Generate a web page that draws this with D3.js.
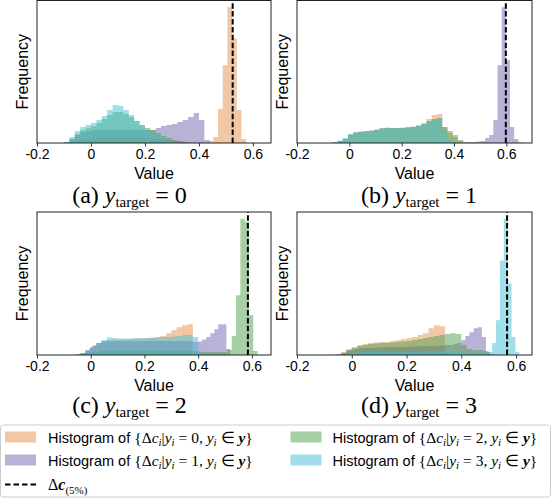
<!DOCTYPE html>
<html><head><meta charset="utf-8">
<script src="https://cdn.jsdelivr.net/npm/d3@7"></script>
<style>body{margin:0;background:#fff}svg text{white-space:pre}</style>
</head><body>
<svg id="chart" width="553" height="499"></svg>
<script>
// ---------------- DATA ----------------
const panelLetters = ["a", "b", "c", "d"];
const targetValues = ["0", "1", "2", "3"];
const classLabels = ["0", "1", "2", "3"];
const tickValues = [-0.2, 0, 0.2, 0.4, 0.6];
const tickLabels = ["-0.2", "0", "0.2", "0.4", "0.6"];
const xMin = [-0.2, -0.2, -0.2, -0.2];
const xMax = [0.667, 0.698, 0.671, 0.658];
const threshold5 = [0.525, 0.598, 0.585, 0.567];

// first bin edge and bin width per panel, per class
const binStart = [
  [-0.1, -0.1, -0.1, -0.1],
  [-0.065, 0.439, -0.065, -0.065],
  [-0.06, -0.05, -0.051, -0.06],
  [-0.06, -0.05, -0.06, -0.0414]
];
const binWidth = [
  [0.0173, 0.02, 0.02, 0.02],
  [0.02, 0.0159, 0.02, 0.02],
  [0.02, 0.015, 0.016, 0.02],
  [0.02, 0.015, 0.02, 0.0142]
];

// panel (a) y_target = 0
const histA0 = [0.5,1,2,3,4,4.5,5,5.5,6,6,6.5,6.5,6,6,6,5.5,5.5,5,5,4.5,4,3.5,3,2.5,2,1.5,1,0.5,0.3,0.2,0.5,2,6,34,78,136,105,33,4];
const histA1 = [1,4,8,11,12,13,13,13,13,13,13,13,13,13,13,13,13,15,17,18,19,21,23,26,30,23,3];
const histA2 = [0.5,4,9,13,15,17,20,24,28,31,31,29,26,22,18,15,13,10,7,5,3,2,1];
const histA3 = [1,6,12,16,18,20,23,27,33,38,37,33,28,22,18,13,10,7,4,2,1];
// panel (b) y_target = 1
const histB0 = [1,2,4,9,11,11.5,12,12.5,13.5,15,15.5,15,15,15.5,16,16.5,18,20,24,28,29,16,10,6,2,0.5];
const histB1 = [0.5,1,1,1.5,2,5,8,23,78,136,83,16,4,0.5];
const histB2 = [0.5,2,4,8,10,11,11.5,12,13,14.5,15,15,15,15,15.5,16,17,19,22,24,25,16,12,8,3,0.5];
const histB3 = [1,2.5,5,9,11,11.5,12,12.5,13.5,14.5,15,15,15,15,15.5,16,17,19,22,24,25,14,3,0.5];
// panel (c) y_target = 2
const histC0 = [0.5,2,5,9,12,14,15,15.5,15.5,15.5,16,16,16.5,17,17.5,18,19,22,25,28,30,31,1];
const histC1 = [0.5,2,4,7,10,12,13,14,14,14,14,14,14,14,14,14,14,14,14,14,14,14,14,14,14,14,14,14,13.5,13,13.5,15.5,18,22,26,31,31,6];
const histC2 = [0.5,1,2,3,3.5,4,4,4.5,4.5,4.5,4.5,4.5,4.5,4.5,4.5,4.5,4.5,4.5,4.5,4.5,4.5,4.5,4,4,4,4,4,4,3.5,3,3,3,3,3,3,5,19,60,137,134,40,4];
const histC3 = [0.5,2,5,8,12,15,17.5,17,16.5,16.5,16.5,17,17,17,17,17.5,18,18,18.5,19,20,20,18,2];
// panel (d) y_target = 3
const histD0 = [0.5,3,6,8,10,11,12,12.5,13,13,14,15,16,17,18,20,22,27,30,29,2];
const histD1 = [0.5,2,4,5,6,7,7,7,7,7.5,7.5,7.5,8,8,8,8,8,8.5,8.5,8.5,9,9,9,9,9.5,9.5,10,10,11,12,15,19,23,27,28,18,3];
const histD2 = [0.5,2,5,7,9,10,11,11.5,12,12,12.5,13,13.5,14,15,16,17,18,19,20,21,22,21,10,6,5,5,4,1];
const histD3 = [0.5,1,1.5,2,2.5,3,3,3,3,3,3,3,3,3,3,3,3,3,3,3,3,3,3,3,3,3,3,3,3,3,2.5,2.5,2,2,2,2,2,2,3,12,35,95,137,72,18,3];

const histograms = [
  [histA0, histA1, histA2, histA3],
  [histB0, histB1, histB2, histB3],
  [histC0, histC1, histC2, histC3],
  [histD0, histD1, histD2, histD3]
];

// ---------------- STYLE / LAYOUT ----------------
const SANS = "'Liberation Sans', Arial, sans-serif";
const SERIF = "'Liberation Serif', 'Times New Roman', serif";
const colors = ["#e38f4e", "#7265b0", "#4d9f4d", "#41bfd3"];
const alpha = 0.5;
const layout = [
  {x0: 37, x1: 271, y0: 0.5, y1: 143, cap: 129.5, capY: 203, ylab: 28},
  {x0: 297, x1: 532, y0: 0.5, y1: 143, cap: 419, capY: 203, ylab: 287.5},
  {x0: 37, x1: 271, y0: 212, y1: 355, cap: 129.5, capY: 413, ylab: 28},
  {x0: 297, x1: 532, y0: 212, y1: 355, cap: 419, capY: 413, ylab: 287.5}
];

const svg = d3.select("#chart");

function addRich(g, x, y, parts, opts) {
  opts = opts || {};
  const t = g.append("text").attr("x", x).attr("y", y)
    .attr("text-anchor", opts.anchor || "start")
    .attr("font-family", opts.font || SERIF)
    .attr("font-size", opts.size || 16)
    .attr("fill", "#000");
  let shift = 0;
  parts.forEach(p => {
    const s = t.append("tspan").text(p.t);
    const target = p.sub || 0;
    if (target !== shift) { s.attr("dy", target - shift); shift = target; }
    if (p.font) s.attr("font-family", p.font);
    if (p.size) s.attr("font-size", p.size);
    if (p.it) s.attr("font-style", "italic");
    if (p.bold) s.attr("font-weight", "bold");
  });
  return t;
}

panelLetters.forEach((letter, p) => {
  const L = layout[p];
  const g = svg.append("g");
  const x = d3.scaleLinear().domain([xMin[p], xMax[p]]).range([L.x0, L.x1]);
  const maxC = d3.max(histograms[p], h => d3.max(h));
  const y = d3.scaleLinear().domain([0, maxC * 1.05]).range([L.y1, L.y0]);

  const area = d3.area()
    .x(d => x(d.x)).y0(y(0)).y1(d => y(d.c))
    .curve(d3.curveStepAfter);

  histograms[p].forEach((counts, k) => {
    const s = binStart[p][k], w = binWidth[p][k];
    const pts = counts.map((c, i) => ({x: s + i * w, c: c}));
    pts.push({x: s + counts.length * w, c: counts[counts.length - 1]});
    g.append("path").datum(pts).attr("d", area)
      .attr("fill", colors[k]).attr("fill-opacity", alpha).attr("stroke", "none");
  });

  // threshold line
  g.append("line")
    .attr("x1", x(threshold5[p])).attr("x2", x(threshold5[p]))
    .attr("y1", L.y1).attr("y2", L.y0)
    .attr("stroke", "#000").attr("stroke-width", 2)
    .attr("stroke-dasharray", "5.5,2.4");

  // x axis
  const ax = g.append("g").attr("transform", `translate(0,${L.y1})`)
    .call(d3.axisBottom(x).tickValues(tickValues)
      .tickFormat((d, i) => tickLabels[i]).tickSize(3.5).tickPadding(2.5));
  ax.select(".domain").remove();
  ax.selectAll("line").attr("stroke", "#222").attr("stroke-width", 0.9);
  ax.selectAll("text").attr("font-family", SANS).attr("font-size", 14).attr("fill", "#000");

  // frame
  g.append("rect").attr("x", L.x0).attr("y", L.y0)
    .attr("width", L.x1 - L.x0).attr("height", L.y1 - L.y0)
    .attr("fill", "none").attr("stroke", "#222").attr("stroke-width", 1);

  // axis labels
  g.append("text").attr("x", (L.x0 + L.x1) / 2).attr("y", L.y1 + 36)
    .attr("text-anchor", "middle").attr("font-family", SANS).attr("font-size", 16)
    .attr("fill", "#000").text("Value");
  g.append("text")
    .attr("transform", `translate(${L.ylab},${(L.y0 + L.y1) / 2}) rotate(-90)`)
    .attr("text-anchor", "middle").attr("font-family", SANS).attr("font-size", 16)
    .attr("fill", "#000").text("Frequency");

  // caption
  addRich(g, L.cap, L.capY, [
    {t: "(" + letter + ") "},
    {t: "y", it: true},
    {t: "target", size: 15, sub: 4},
    {t: " = " + targetValues[p]}
  ], {anchor: "middle", size: 24});
});

// ---------------- LEGEND ----------------
const lg = svg.append("g");
lg.append("rect").attr("x", 0.5).attr("y", 425).attr("width", 550).attr("height", 72)
  .attr("rx", 3).attr("fill", "#fff").attr("fill-opacity", 0.8)
  .attr("stroke", "#cccccc").attr("stroke-width", 1);

const legendPos = [
  {px: 5, tx: 48, cy: 437},
  {px: 5, tx: 48, cy: 460},
  {px: 290.5, tx: 332.5, cy: 437},
  {px: 290.5, tx: 332.5, cy: 460}
];
classLabels.forEach((cl, k) => {
  const P = legendPos[k];
  lg.append("rect").attr("x", P.px).attr("y", P.cy - 5.5).attr("width", 31).attr("height", 11)
    .attr("fill", colors[k]).attr("fill-opacity", alpha);
  addRich(lg, P.tx, P.cy + 5.5, [
    {t: "Histogram of ", font: SANS, size: 14.5},
    {t: "{Δ"},
    {t: "c", it: true},
    {t: "i", it: true, size: 11, sub: 3.5},
    {t: "|"},
    {t: "y", it: true},
    {t: "i", it: true, size: 11, sub: 3.5},
    {t: " = " + cl + ", "},
    {t: "y", it: true},
    {t: "i", it: true, size: 11, sub: 3.5},
    {t: " ∈ "},
    {t: "y", it: true, bold: true},
    {t: "}"}
  ], {size: 15.5});
});
lg.append("line").attr("x1", 5).attr("x2", 36).attr("y1", 484.5).attr("y2", 484.5)
  .attr("stroke", "#000").attr("stroke-width", 2).attr("stroke-dasharray", "5.5,3");
addRich(lg, 48, 489.5, [
  {t: "Δ"},
  {t: "c", it: true, bold: true},
  {t: "(5%)", size: 11, sub: 4}
], {size: 16});
</script>
</body></html>
